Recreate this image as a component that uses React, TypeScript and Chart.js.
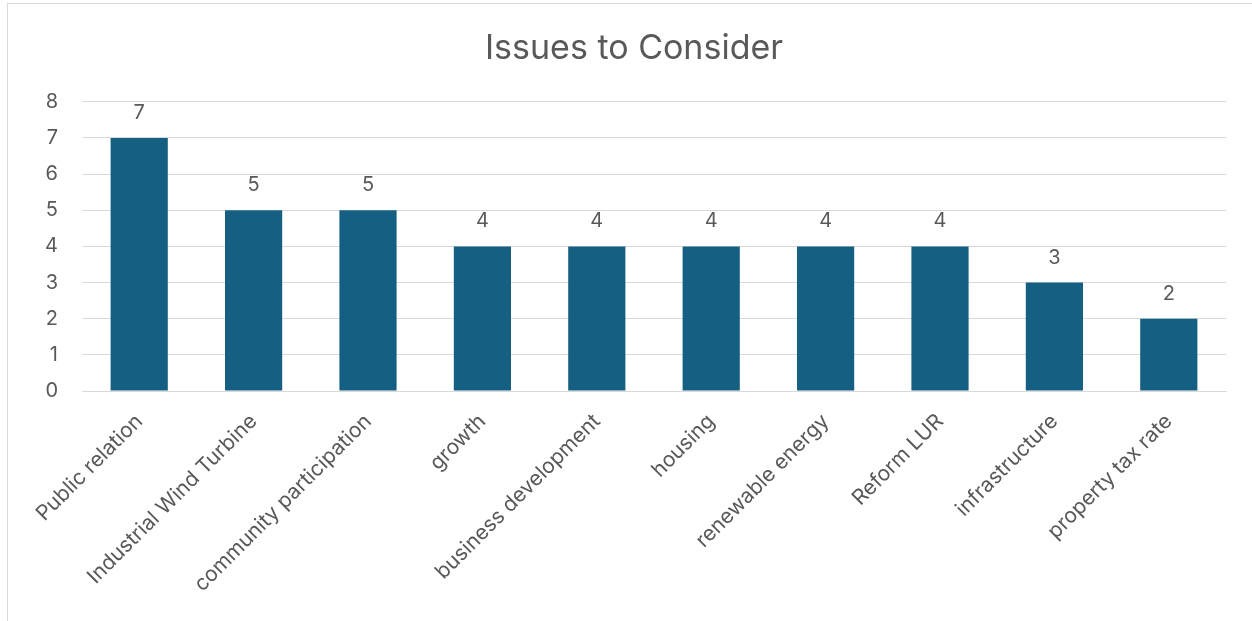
import React, { useEffect, useRef } from "react";
import { Chart, registerables } from "chart.js";

Chart.register(...registerables);

const categories = [
  "Public relation",
  "Industrial Wind Turbine",
  "community participation",
  "growth",
  "business development",
  "housing",
  "renewable energy",
  "Reform LUR",
  "infrastructure",
  "property tax rate",
];
const counts = [7, 5, 5, 4, 4, 4, 4, 4, 3, 2];
const yTicks = [0, 1, 2, 3, 4, 5, 6, 7, 8];
const chartTitle = "Issues to Consider";

const FONT = "Inter, 'Open Sans', sans-serif";
const TEXT = "#595959";

const valueLabels = {
  id: "valueLabels",
  afterDatasetsDraw(chart: any) {
    const ctx = chart.ctx;
    const meta = chart.getDatasetMeta(0);
    ctx.save();
    ctx.fillStyle = TEXT;
    ctx.font = `20px ${FONT}`;
    ctx.textAlign = "center";
    ctx.textBaseline = "middle";
    meta.data.forEach((bar: any, i: number) => {
      ctx.fillText(String(counts[i]), bar.x, bar.y - 25);
    });
    ctx.restore();
  },
};

export default function App() {
  const ref = useRef<HTMLCanvasElement | null>(null);
  useEffect(() => {
    if (!ref.current) return;
    const chart = new Chart(ref.current, {
      type: "bar",
      data: {
        labels: categories,
        datasets: [
          {
            data: counts,
            backgroundColor: "#156082",
            barPercentage: 0.5,
            categoryPercentage: 1,
          },
        ],
      },
      options: {
        animation: false,
        responsive: false,
        maintainAspectRatio: false,
        layout: { padding: { top: 10, left: 42, right: 26, bottom: 30 } },
        plugins: {
          legend: { display: false },
          tooltip: { enabled: false },
          title: {
            display: true,
            text: chartTitle,
            color: TEXT,
            font: { family: FONT, size: 34, weight: "normal" },
            padding: { top: 18, bottom: 33 },
          },
        },
        scales: {
          x: {
            grid: { display: false, drawTicks: false },
            border: { display: true, color: "#d9d9d9", width: 1 },
            afterFit: (axis: any) => {
              axis.height = 200;
              axis.paddingLeft = 0;
              axis.paddingRight = 0;
            },
            ticks: {
              color: TEXT,
              font: { family: FONT, size: 21 },
              maxRotation: 45,
              minRotation: 45,
              autoSkip: false,
              padding: 18,
            },
          },
          y: {
            min: 0,
            max: 8,
            afterBuildTicks: (axis: any) => {
              axis.ticks = yTicks.map((v) => ({ value: v }));
            },
            afterFit: (axis: any) => {
              axis.width = 40;
            },
            grid: { color: "#d9d9d9", lineWidth: 1, drawTicks: false },
            border: { display: false },
            ticks: {
              color: TEXT,
              font: { family: FONT, size: 20 },
              padding: 24,
            },
          },
        },
      },
      plugins: [valueLabels],
    });
    return () => chart.destroy();
  }, []);
  return (
    <div style={{ position: "fixed", left: 0, top: 0, width: 1252, height: 621, background: "#fff" }}>
      <div
        style={{
          position: "absolute",
          left: 7,
          top: 3,
          width: 1270,
          height: 640,
          border: "1px solid #d9d9d9",
          boxSizing: "border-box",
        }}
      />
      <canvas ref={ref} width={1252} height={621} style={{ position: "absolute", left: 0, top: 0 }} />
    </div>
  );
}
